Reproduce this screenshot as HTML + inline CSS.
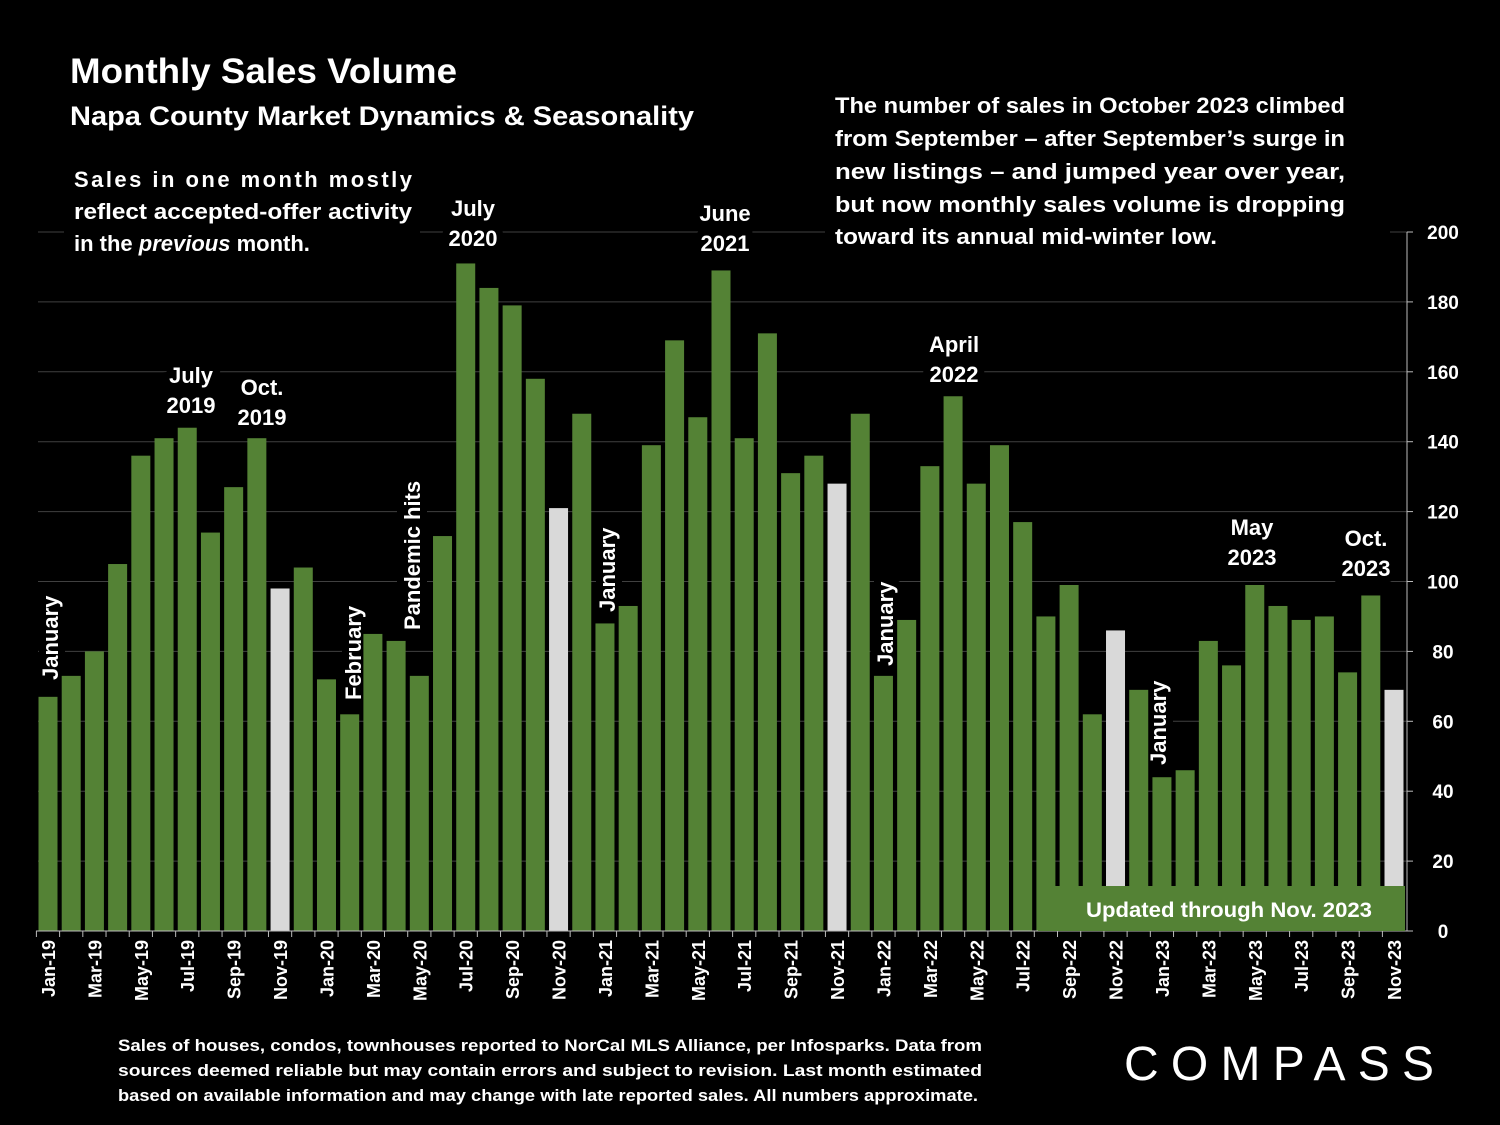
<!DOCTYPE html>
<html><head><meta charset="utf-8"><style>
html,body{margin:0;padding:0;background:#000;}
svg{display:block;font-family:"Liberation Sans",sans-serif;font-weight:bold;}
</style></head><body>
<svg id="chart" width="1500" height="1125" viewBox="0 0 1500 1125" xmlns="http://www.w3.org/2000/svg">
<rect width="1500" height="1125" fill="#000"/>
<g id="grid"></g>
<g fill="#000">
<rect x="64" y="160" width="356" height="100"/>
<rect x="825" y="88" width="565" height="168"/>
</g>
<g id="annots" fill="#fff" font-size="22" text-anchor="middle" stroke="#000" stroke-width="14" paint-order="stroke">
<text x="191" y="383">July</text><text x="191" y="413">2019</text>
<text x="262" y="395">Oct.</text><text x="262" y="425">2019</text>
<text x="473" y="216">July</text><text x="473" y="246">2020</text>
<text x="725" y="221">June</text><text x="725" y="251">2021</text>
<text x="954" y="352">April</text><text x="954" y="382">2022</text>
<text x="1252" y="535">May</text><text x="1252" y="565">2023</text>
<text x="1366" y="546">Oct.</text><text x="1366" y="576">2023</text>
<text transform="translate(58,680) rotate(-90)" text-anchor="start">January</text>
<text transform="translate(361,700) rotate(-90)" text-anchor="start">February</text>
<text transform="translate(420,630) rotate(-90)" text-anchor="start">Pandemic hits</text>
<text transform="translate(615,612) rotate(-90)" text-anchor="start">January</text>
<text transform="translate(893,666) rotate(-90)" text-anchor="start">January</text>
<text transform="translate(1166,765) rotate(-90)" text-anchor="start">January</text>
</g>
<g id="bars"></g>
<g id="axis"></g>
<g id="xlabels"></g>
<text x="70" y="83" fill="#fff" font-size="35" textLength="387" lengthAdjust="spacingAndGlyphs">Monthly Sales Volume</text>
<text x="70" y="125" fill="#fff" font-size="27" textLength="624" lengthAdjust="spacingAndGlyphs">Napa County Market Dynamics &amp; Seasonality</text>
<g fill="#fff" font-size="22">
<text x="74" y="187" textLength="338" lengthAdjust="spacing">Sales in one month mostly</text>
<text x="74" y="219" textLength="338" lengthAdjust="spacingAndGlyphs">reflect accepted-offer activity</text>
<text x="74" y="251">in the <tspan font-style="italic">previous</tspan> month.</text>
</g>
<g fill="#fff" font-size="22">
<text x="835" y="113" textLength="510" lengthAdjust="spacingAndGlyphs">The number of sales in October 2023 climbed</text>
<text x="835" y="146" textLength="510" lengthAdjust="spacingAndGlyphs">from September – after September’s surge in</text>
<text x="835" y="179" textLength="510" lengthAdjust="spacingAndGlyphs">new listings – and jumped year over year,</text>
<text x="835" y="212" textLength="510" lengthAdjust="spacingAndGlyphs">but now monthly sales volume is dropping</text>
<text x="835" y="244" textLength="382" lengthAdjust="spacingAndGlyphs">toward its annual mid-winter low.</text>
</g>
<rect x="1038" y="886" width="367" height="45" fill="#548235"/>
<text x="1229" y="917" fill="#fff" font-size="21" text-anchor="middle" textLength="286" lengthAdjust="spacingAndGlyphs">Updated through Nov. 2023</text>
<g fill="#fff" font-size="17">
<text x="118" y="1051" textLength="864" lengthAdjust="spacingAndGlyphs">Sales of houses, condos, townhouses reported to NorCal MLS Alliance, per Infosparks. Data from</text>
<text x="118" y="1076" textLength="864" lengthAdjust="spacingAndGlyphs">sources deemed reliable but may contain errors and subject to revision. Last month estimated</text>
<text x="118" y="1101" textLength="860" lengthAdjust="spacingAndGlyphs">based on available information and may change with late reported sales. All numbers approximate.</text>
</g>
<g>
<text x="1282" y="1080" fill="#fff" font-size="48" font-weight="normal" text-anchor="middle" textLength="316" lengthAdjust="spacing" letter-spacing="6">COMPASS</text>
</g>
</svg>
<script>
const months = ["Jan-19","Feb-19","Mar-19","Apr-19","May-19","Jun-19","Jul-19","Aug-19","Sep-19","Oct-19","Nov-19","Dec-19",
"Jan-20","Feb-20","Mar-20","Apr-20","May-20","Jun-20","Jul-20","Aug-20","Sep-20","Oct-20","Nov-20","Dec-20",
"Jan-21","Feb-21","Mar-21","Apr-21","May-21","Jun-21","Jul-21","Aug-21","Sep-21","Oct-21","Nov-21","Dec-21",
"Jan-22","Feb-22","Mar-22","Apr-22","May-22","Jun-22","Jul-22","Aug-22","Sep-22","Oct-22","Nov-22","Dec-22",
"Jan-23","Feb-23","Mar-23","Apr-23","May-23","Jun-23","Jul-23","Aug-23","Sep-23","Oct-23","Nov-23"];
const sales = [67,73,80,105,136,141,144,114,127,141,98,104,
72,62,85,83,73,113,191,184,179,158,121,148,
88,93,139,169,147,189,141,171,131,136,128,148,
73,89,133,153,128,139,117,90,99,62,86,69,
44,46,83,76,99,93,89,90,74,96,69];
const highlighted = ["Nov-19","Nov-20","Nov-21","Nov-22","Nov-23"];
const yTicks = [0,20,40,60,80,100,120,140,160,180,200];

const NS="http://www.w3.org/2000/svg";
const y0=931, y1=232, yMax=200;
const yScale=v=>y0-(v/yMax)*(y0-y1);
const x0=48, x1=1394;
const xScale=i=>x0+i*(x1-x0)/(months.length-1);
const barW=19;
function mk(tag,attrs,parent){const e=document.createElementNS(NS,tag);for(const k in attrs)e.setAttribute(k,attrs[k]);parent.appendChild(e);return e;}
const grid=document.getElementById('grid'),bars=document.getElementById('bars'),axis=document.getElementById('axis'),xl=document.getElementById('xlabels');
yTicks.forEach(t=>{
  if(t>0){const l=mk('line',{x1:38,x2:1407,y1:yScale(t),y2:yScale(t),stroke:'#404040','stroke-width':1},grid);
  
  }
  const tk=mk('line',{x1:1407,x2:1413,y1:yScale(t),y2:yScale(t),stroke:'#bbb','stroke-width':1},axis);
  
  
  const tx=mk('text',{x:1443,y:yScale(t)+7,fill:'#fff','font-size':19,'text-anchor':'middle'},axis);
  tx.textContent=t;
  
  
});
const ax=mk('line',{x1:1407,x2:1407,y1:y1,y2:y0,stroke:'#bbb','stroke-width':1},axis);


const xa=mk('line',{x1:36,x2:1407,y1:y0,y2:y0,stroke:'#bbb','stroke-width':1},axis);


months.forEach((m,i)=>{
  const cx=xScale(i), v=sales[i];
  const r=mk('rect',{x:cx-barW/2,y:yScale(v),width:barW,height:y0-yScale(v),fill:highlighted.includes(m)?'#d9d9d9':'#548235'},bars);
  
  
  const tk=mk('line',{x1:cx-11.6,x2:cx-11.6,y1:y0,y2:y0+6,stroke:'#bbb'},axis);
  
  
  if(i%2===0){
    const t=mk('text',{transform:`translate(${cx+7},940) rotate(-90)`,fill:'#fff','font-size':18,'text-anchor':'end'},xl);
    t.textContent=m;
    
    
  }
});
</script>
</body></html>
